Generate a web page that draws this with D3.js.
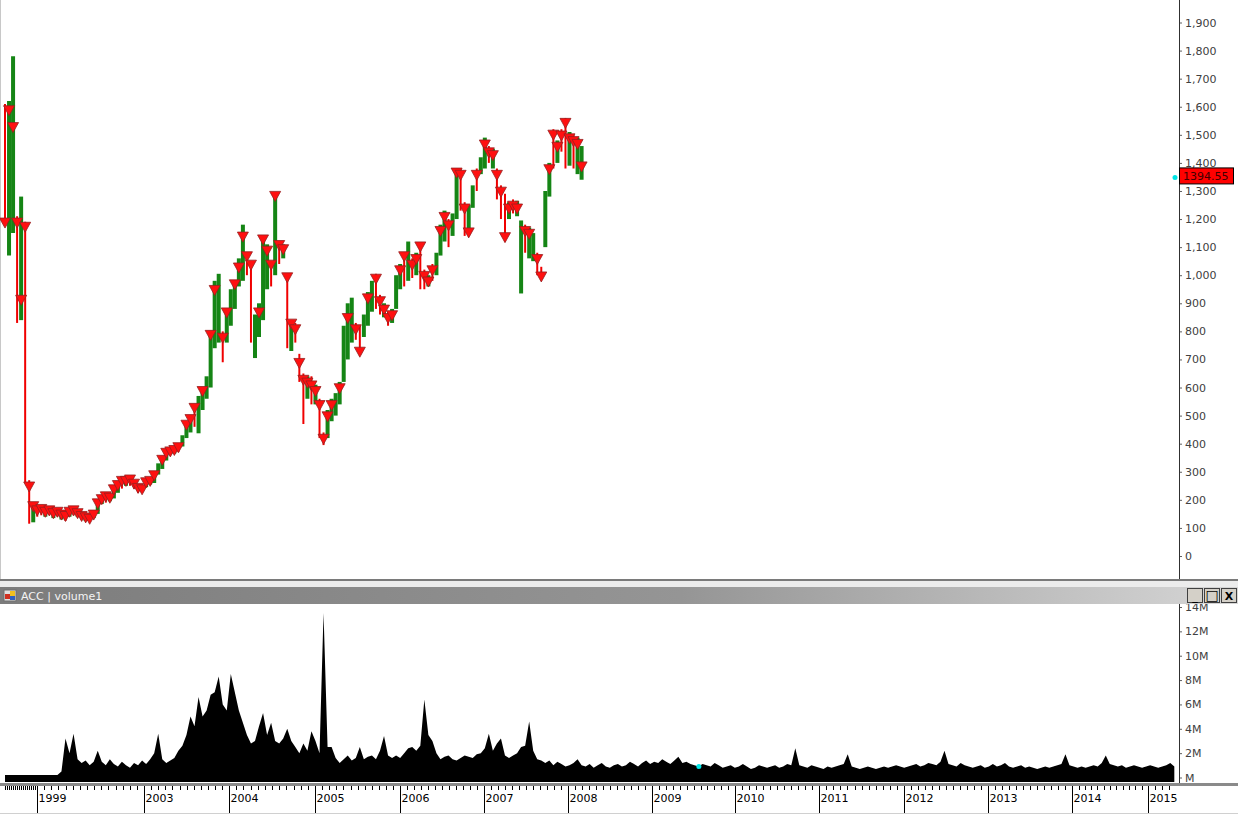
<!DOCTYPE html>
<html><head><meta charset="utf-8">
<script src="https://cdn.jsdelivr.net/npm/d3@7"></script>
<style>html,body{margin:0;padding:0;background:#fff;overflow:hidden}text{font-family:"DejaVu Sans",sans-serif}</style>
</head><body><svg id="c" width="1238" height="815"></svg>
<script>
// ---------- data ----------
const yearLabels = ["1999","2003","2004","2005","2006","2007","2008","2009","2010","2011","2012","2013","2014","2015"];
const yearDays   = [95, 414, 667, 923, 1176, 1426, 1676, 1926, 2173, 2423, 2676, 2926, 3176, 3402];
const totalDays = 3485;
const priceStep = 12;
const priceHigh = [1610,1620,1780,1210,1280,1190,270,180,175,180,170,175,165,170,160,155,170,175,165,155,150,145,160,200,215,225,220,250,265,280,280,285,270,255,250,275,280,300,330,355,380,385,390,400,430,480,500,540,570,600,640,800,980,1005,800,880,950,980,1060,1180,1080,1050,860,900,1130,1110,1050,1295,1120,1110,1005,840,830,720,650,640,640,610,560,440,520,560,580,620,820,900,920,830,820,860,940,980,1005,930,900,870,880,1000,1040,1080,1120,1060,1080,1115,1020,1000,1040,1080,1180,1230,1200,1220,1380,1380,1260,1250,1320,1380,1420,1490,1460,1450,1380,1320,1290,1260,1270,1265,1195,1180,1170,1150,1080,1030,1300,1400,1520,1480,1520,1560,1510,1500,1490,1460];
const priceLow  = [1200,1070,1150,830,840,260,115,120,140,145,140,145,135,140,130,125,140,145,140,130,125,125,135,150,185,190,195,205,225,240,250,250,240,225,230,245,255,260,290,310,340,360,365,370,390,420,440,460,437,520,560,600,740,760,690,760,820,880,960,980,1000,760,705,780,840,950,960,1000,1040,1060,740,730,760,620,470,560,540,540,420,395,420,480,500,540,620,700,760,770,720,780,820,870,880,860,850,820,830,880,950,960,980,990,1000,950,950,960,980,1000,1070,1120,1100,1140,1200,1230,1140,1160,1240,1300,1360,1380,1400,1380,1270,1200,1120,1200,1220,1210,935,1080,1060,1050,1000,990,1100,1280,1380,1400,1440,1380,1390,1380,1360,1340];
const priceUp   = [0,1,1,0,1,0,0,1,0,0,1,0,1,0,1,0,1,0,1,0,1,0,1,1,1,0,1,1,1,0,1,0,0,0,1,1,1,1,1,1,1,0,1,0,1,1,1,0,1,1,1,1,1,1,0,1,1,1,1,1,0,0,1,1,1,1,0,1,0,1,0,1,0,0,0,1,0,1,0,0,1,1,1,1,1,1,1,0,0,1,1,1,0,0,1,0,1,1,1,0,1,0,1,0,0,1,0,1,1,1,0,1,1,0,0,1,1,0,1,1,0,1,0,0,0,1,0,1,1,0,1,1,0,0,1,1,0,1,0,0,1,0,1,1];
// price level of each sell-signal triangle (0 = no signal on that bar)
const signalPrice = [1200,1600,1540,1200,925,1185,260,190,175,180,170,175,165,170,160,155,170,175,165,155,150,145,160,200,215,225,220,250,265,280,280,285,270,255,250,275,280,300,0,355,380,385,390,400,0,480,500,540,0,600,0,800,960,0,790,880,0,980,1040,1150,1080,1050,0,880,1140,1100,1050,1295,1120,1105,1005,840,820,700,640,630,620,600,550,430,510,550,0,610,0,860,0,820,740,0,930,0,1000,920,890,860,870,0,1030,1080,0,1050,1070,1115,1010,990,1030,0,1170,1220,1190,0,1378,1370,1250,1165,0,1370,0,1478,1450,1440,1370,1310,1148,1250,1260,1250,0,1170,1160,0,1070,1008,0,1390,1513,1470,1510,1555,1500,1490,1480,1400];
const lastClose = 1394.55;
const volStep = 12;
const volumeM = [0.2,0.2,0.2,0.2,0.2,0.2,0.2,0.2,0.2,0.2,0.2,0.2,0.2,0.2,
0.5,3.2,2.0,3.6,1.5,1.2,1.4,1.0,1.3,2.2,1.3,1.0,1.5,1.1,0.9,1.3,1.0,0.8,1.2,1.0,1.4,1.1,1.5,2.0,3.6,1.5,
1.2,1.4,1.6,2.2,2.6,3.5,5.0,4.2,6.6,5.0,5.5,6.8,7.0,8.3,6.0,5.5,8.5,7.0,5.5,4.5,
3.5,2.8,3.0,4.2,5.3,3.5,4.5,3.0,2.8,3.2,4.0,3.0,2.5,2.0,2.8,2.2,3.8,3.0,2.0,13.5,
2.5,2.5,1.6,1.2,1.5,1.8,1.4,1.6,2.5,1.5,1.7,1.8,1.5,2.2,3.4,1.8,1.6,1.8,1.6,2.0,
2.4,2.5,2.2,2.6,6.4,3.5,3.0,2.0,1.5,1.7,1.8,1.5,1.4,1.6,1.8,1.7,1.6,1.9,2.0,2.4,
3.6,2.2,2.8,3.2,1.8,1.6,1.8,2.0,2.5,2.6,4.6,2.2,1.5,1.4,1.2,1.4,1.0,1.3,1.1,0.9,
1.0,1.2,1.5,1.0,0.9,1.1,0.8,1.0,1.2,0.9,0.8,1.0,1.1,0.9,1.0,1.3,1.1,0.9,1.2,1.4,
1.1,1.3,1.2,1.5,1.3,1.1,1.4,1.7,1.2,1.3,1.1,1.0,0.9,1.1,1.0,0.9,1.2,1.0,0.8,0.9,
1.0,0.8,0.9,1.1,0.9,0.7,0.8,1.0,0.9,0.8,0.9,1.0,0.8,0.9,1.1,1.0,2.4,1.0,0.9,0.8,
1.0,0.9,0.8,0.7,0.9,0.8,0.9,1.0,1.1,1.9,0.9,0.8,0.7,0.8,0.9,0.8,0.7,0.8,0.9,0.8,
0.9,1.0,0.9,0.8,0.9,1.0,1.1,0.9,1.0,1.2,1.1,1.0,1.3,2.2,1.1,1.0,0.9,1.2,1.0,0.9,
0.8,0.9,1.0,0.8,0.9,1.1,0.9,1.0,1.2,0.9,0.8,0.9,1.0,0.8,0.9,0.8,0.7,0.8,0.9,0.8,
0.9,1.0,1.1,1.9,1.0,0.9,0.8,0.9,0.8,0.9,1.0,0.9,1.2,1.8,1.1,1.0,0.9,1.0,0.8,0.9,
1.0,0.9,0.8,0.9,1.0,0.9,0.8,0.9,1.0,1.2,0.9];
const priceTicks = [0,100,200,300,400,500,600,700,800,900,1000,1100,1200,1300,1400,1500,1600,1700,1800,1900];
const volTicks = [0,2,4,6,8,10,12,14];
const volMarkerDay = 2065, volMarkerValue = 0.9;

// ---------- layout ----------
const W = 1238;
const svg = d3.select("#c");
const x = d3.scaleLinear().domain([0, totalDays]).range([5, 1176]);
const yP = d3.scaleLinear().domain([0, 1900]).range([556, 22.5]);
const yV = d3.scaleLinear().domain([0, 14]).range([777.5, 607]);
const axisX = 1179;

// price panel
svg.append("rect").attr("x",0).attr("y",0).attr("width",W).attr("height",580).attr("fill","#fff");
svg.append("line").attr("x1",0.5).attr("x2",0.5).attr("y1",0).attr("y2",580).attr("stroke","#c8c8c8");

const priceIdx = d3.range(priceHigh.length);
svg.append("g").selectAll("line").data(priceIdx).join("line")
  .attr("x1", i => x(i*priceStep)).attr("x2", i => x(i*priceStep))
  .attr("y1", i => yP(priceHigh[i])).attr("y2", i => yP(priceLow[i]))
  .attr("stroke", i => priceUp[i] ? "#158515" : "#f00000")
  .attr("stroke-width", i => priceUp[i] ? 4 : 2);

svg.append("g").selectAll("path").data(priceIdx.filter(i => signalPrice[i] > 0)).join("path")
  .attr("transform", i => `translate(${x(i*priceStep)},${yP(signalPrice[i])})`)
  .attr("d", "M-5.5,-1L5.5,-1L0,9Z")
  .attr("fill", "#ff1010").attr("stroke", "#962020").attr("stroke-width", 0.8);

// price axis
const gP = svg.append("g").attr("transform", `translate(${axisX},0)`)
  .call(d3.axisRight(yP).tickValues(priceTicks).tickSize(3).tickPadding(3).tickFormat(d3.format(",")));
gP.select(".domain").remove();
gP.selectAll(".tick line").attr("stroke","#606060");
gP.selectAll(".tick text").attr("fill","#404040").style("font-size","11px");
svg.append("line").attr("x1",axisX+0.5).attr("x2",axisX+0.5).attr("y1",0).attr("y2",580).attr("stroke","#303030");

// last price label
const ly = yP(lastClose) + 11;
svg.append("rect").attr("x",1179.5).attr("y",ly-7.5).attr("width",54).attr("height",16)
  .attr("fill","#ff0000").attr("stroke","#000").attr("stroke-width",1);
svg.append("text").attr("x",1183).attr("y",ly+4.5).text(d3.format(".2f")(lastClose))
  .attr("fill","#400000").style("font-size","11px");
svg.append("circle").attr("cx",1175).attr("cy",ly+2).attr("r",2.5).attr("fill","#00e5e5");

// volume area
const volIdx = d3.range(volumeM.length);
svg.append("path").datum(volIdx)
  .attr("d", d3.area().x(i => x(i*volStep)).y0(782).y1(i => yV(volumeM[i])))
  .attr("fill","#000");
svg.append("circle").attr("cx",x(volMarkerDay)).attr("cy",yV(volMarkerValue)).attr("r",2.5).attr("fill","#00e5e5");

// volume axis
const gV = svg.append("g").attr("transform", `translate(${axisX},0)`)
  .call(d3.axisRight(yV).tickValues(volTicks).tickSize(3).tickPadding(3).tickFormat(v => v === 0 ? "M" : v + "M"));
gV.select(".domain").remove();
gV.selectAll(".tick line").attr("stroke","#606060");
gV.selectAll(".tick text").attr("fill","#404040").style("font-size","11px");
svg.append("line").attr("x1",axisX+0.5).attr("x2",axisX+0.5).attr("y1",604).attr("y2",783).attr("stroke","#303030");

// panel separator + header bar (drawn over the volume axis top)
svg.append("rect").attr("x",0).attr("y",579).attr("width",W).attr("height",2).attr("fill","#7a7a7a");
svg.append("rect").attr("x",0).attr("y",581).attr("width",W).attr("height",6).attr("fill","#ececec");
const grad = svg.append("defs").append("linearGradient").attr("id","hg").attr("x1","0").attr("x2","1");
grad.append("stop").attr("offset","0").attr("stop-color","#7c7c7c");
grad.append("stop").attr("offset","0.55").attr("stop-color","#959595");
grad.append("stop").attr("offset","1").attr("stop-color","#d6d6d6");
svg.append("rect").attr("x",0).attr("y",587).attr("width",W).attr("height",17).attr("fill","url(#hg)");
svg.append("rect").attr("x",4).attr("y",590).attr("width",12).attr("height",11).attr("fill","#e0e0e0").attr("stroke","#707070");
svg.append("rect").attr("x",5).attr("y",594).attr("width",5).attr("height",5).attr("fill","#d03020");
svg.append("rect").attr("x",10).attr("y",591).attr("width",5).attr("height",5).attr("fill","#f0c020");
svg.append("rect").attr("x",10).attr("y",596).attr("width",5).attr("height",4).attr("fill","#3060c0");
svg.append("text").attr("x",21).attr("y",600).text("ACC | volume1").attr("fill","#f4f4f4").style("font-size","11px");
const btns = ["_","□","X"];
svg.append("g").selectAll("g").data(btns).join("g")
  .attr("transform",(d,i)=>`translate(${1187+i*17},588)`)
  .each(function(d){
    const g = d3.select(this);
    g.append("rect").attr("x",0.5).attr("y",0.5).attr("width",15).attr("height",14).attr("fill","#d4d0c8").attr("stroke","#404040");
    g.append("text").attr("x",8).attr("y",12).attr("text-anchor","middle").text(d).attr("fill","#000")
      .style("font-size", d==="□" ? "14px" : "11px").style("font-weight","bold");
  });

// date axis
svg.append("rect").attr("x",0).attr("y",783).attr("width",W).attr("height",3).attr("fill","#8a8a8a");
svg.append("line").attr("x1",0).attr("x2",W).attr("y1",813.5).attr("y2",813.5).attr("stroke","#d0d0d0");
const minor = [];
d3.range(0, 95, 6).forEach(d => minor.push(d));
yearDays.forEach((d, k) => {
  if (k === yearDays.length - 1) { d3.range(1, 4).forEach(m => minor.push(d + m * 21)); return; }
  const next = yearDays[k + 1];
  const n = k === 0 ? 15 : 12;
  d3.range(1, n).forEach(m => minor.push(d + (next - d) * m / n));
});
svg.append("g").selectAll("line").data(minor).join("line")
  .attr("x1", d => Math.round(x(d)) + 0.5).attr("x2", d => Math.round(x(d)) + 0.5)
  .attr("y1", 786).attr("y2", 790).attr("stroke", "#000");
const gY = svg.append("g").selectAll("g").data(yearDays).join("g")
  .attr("transform", d => `translate(${Math.round(x(d)) + 0.5},0)`);
gY.append("line").attr("y1",786).attr("y2",813).attr("stroke","#000");
gY.append("text").attr("x",1).attr("y",802).text((d,i) => yearLabels[i]).attr("fill","#000").style("font-size","11px");
</script></body></html>
